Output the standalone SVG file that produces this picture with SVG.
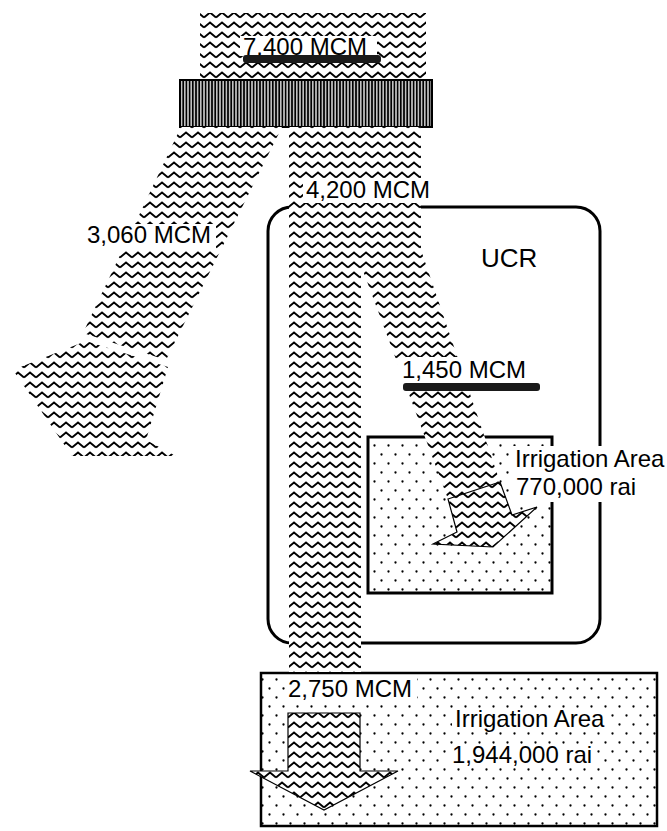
<svg xmlns="http://www.w3.org/2000/svg" width="667" height="831" viewBox="0 0 667 831">
<defs>
<pattern id="wave" width="12" height="10" patternUnits="userSpaceOnUse">
<rect width="12" height="10" fill="#fff"/>
<path d="M0,7.5 L6,2.5 L12,7.5" fill="none" stroke="#000" stroke-width="1.9"/>
</pattern>
<pattern id="dots" width="14" height="18" patternUnits="userSpaceOnUse">
<rect width="14" height="18" fill="#fff"/>
<circle cx="3.5" cy="4.5" r="1.15" fill="#000"/>
<circle cx="10.5" cy="13.5" r="1.15" fill="#000"/>
</pattern>
<pattern id="stripes" width="3.2" height="10" patternUnits="userSpaceOnUse">
<rect width="3.2" height="10" fill="#000"/>
<rect x="1.8" width="1.2" height="10" fill="#fff"/>
</pattern>
</defs>
<style>
.lbl{font-family:"Liberation Sans",Arial,Helvetica,sans-serif;font-size:24px;fill:#000}
.bg{fill:#fff}
.flow{fill:url(#wave)}
.box{stroke:#000;stroke-width:3}
.bar{fill:#1a1a1a}
</style>
<rect width="667" height="831" fill="#fff"/>

<g id="ucr">
<rect x="268" y="207" width="332" height="436" rx="24" ry="24" fill="none" class="box"/>
<text class="lbl" x="481" y="267" style="font-size:26px">UCR</text>
</g>

<g id="irrigation-ucr">
<rect x="368" y="437" width="184" height="156" fill="url(#dots)" class="box"/>
</g>

<g id="irrigation-lower">
<rect x="261" y="673" width="396" height="153" fill="url(#dots)" stroke="#000" stroke-width="2.5"/>
</g>

<g id="inflow">
<rect x="200" y="13" width="226" height="66" class="flow"/>
</g>

<g id="dam">
<rect x="180" y="80" width="252" height="47" fill="url(#stripes)" stroke="#000" stroke-width="2"/>
</g>

<g id="connectors">
<polygon class="flow" points="181,127 282,127 166,360 83,333"/>
<polygon class="flow" points="13,370 86,341 168,367 146,440 176,456 72,456"/>
<polygon class="flow" points="289,127 421,127 421,250 500,482 448,499 362,268 361,268 361,672 289,672"/>
<polygon class="flow" points="448,499 500,482 512,515 537,507 493,547 433,544 457,532" stroke="#000" stroke-width="1.2"/>
<polygon class="flow" points="288,713 360,713 360,771 398,771 324,810 250,771 288,771" stroke="#000" stroke-width="1.2"/>
</g>

<g id="labels">
<rect class="bg" x="240" y="36" width="137" height="20"/>
<text class="lbl" x="243" y="55">7,400 MCM</text>
<rect class="bar" x="243" y="55" width="138" height="8" rx="3"/>

<rect class="bg" x="303" y="178" width="133" height="25"/>
<text class="lbl" x="306" y="198">4,200 MCM</text>

<rect class="bg" x="84" y="224" width="132" height="26"/>
<text class="lbl" x="87" y="243">3,060 MCM</text>

<rect class="bg" x="398" y="357" width="142" height="26"/>
<text class="lbl" x="402" y="378">1,450 MCM</text>
<rect class="bar" x="403" y="383" width="137" height="8" rx="3"/>

<rect class="bg" x="511" y="446" width="156" height="56"/>
<text class="lbl" x="515" y="467">Irrigation Area</text>
<text class="lbl" x="516" y="495">770,000 rai</text>

<rect class="bg" x="286" y="677" width="131" height="25"/>
<text class="lbl" x="288" y="697">2,750 MCM</text>

<rect class="bg" x="452" y="708" width="156" height="24"/>
<text class="lbl" x="455" y="727">Irrigation Area</text>
<rect class="bg" x="449" y="744" width="147" height="24"/>
<text class="lbl" x="452" y="763">1,944,000 rai</text>
</g>
</svg>
